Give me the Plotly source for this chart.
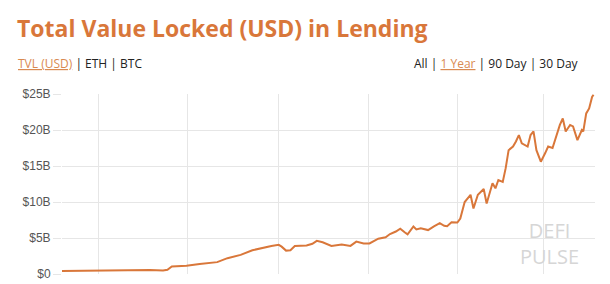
import plotly.graph_objects as go

# Data (date, TVL in billions USD)
dates = [
    "2020-04-06", "2020-04-19", "2020-05-01", "2020-05-12", "2020-05-24", "2020-06-05",
    "2020-06-14", "2020-06-17", "2020-06-20", "2020-06-26", "2020-06-30", "2020-07-09",
    "2020-07-16", "2020-07-21", "2020-07-28", "2020-08-06", "2020-08-14", "2020-08-24",
    "2020-08-27", "2020-09-01", "2020-09-03", "2020-09-06", "2020-09-09", "2020-09-12",
    "2020-09-16", "2020-09-20", "2020-09-24", "2020-09-27", "2020-10-01", "2020-10-07",
    "2020-10-14", "2020-10-20", "2020-10-24", "2020-10-29", "2020-11-02", "2020-11-08",
    "2020-11-13", "2020-11-16", "2020-11-20", "2020-11-23", "2020-11-26", "2020-11-28",
    "2020-12-02", "2020-12-04", "2020-12-07", "2020-12-12", "2020-12-16", "2020-12-20",
    "2020-12-23", "2020-12-25", "2020-12-28", "2021-01-01", "2021-01-03", "2021-01-06",
    "2021-01-10", "2021-01-12", "2021-01-15", "2021-01-19", "2021-01-21", "2021-01-25",
    "2021-01-27", "2021-01-29", "2021-02-01", "2021-02-03", "2021-02-05", "2021-02-08",
    "2021-02-10", "2021-02-12", "2021-02-14", "2021-02-18", "2021-02-20", "2021-02-22",
    "2021-02-24", "2021-02-27", "2021-03-02", "2021-03-04", "2021-03-07", "2021-03-10",
    "2021-03-12", "2021-03-14", "2021-03-16", "2021-03-19", "2021-03-21", "2021-03-24",
    "2021-03-27", "2021-03-28", "2021-03-30", "2021-04-01", "2021-04-03", "2021-04-04",
]
tvl_billions = [
    0.40, 0.45, 0.50, 0.55, 0.50, 0.55,
    0.50, 0.60, 1.05, 1.10, 1.15, 1.40,
    1.50, 1.65, 2.20, 2.65, 3.30, 3.80,
    3.90, 4.05, 3.80, 3.25, 3.30, 3.90,
    3.95, 3.95, 4.20, 4.60, 4.40, 3.90,
    4.10, 3.90, 4.50, 4.25, 4.25, 4.90,
    5.10, 5.55, 5.90, 6.30, 5.80, 5.50,
    6.60, 6.20, 6.35, 6.10, 6.60, 7.05,
    6.70, 6.65, 7.20, 7.15, 7.70, 10.00,
    11.00, 9.10, 11.00, 11.80, 9.80, 12.60,
    11.90, 13.05, 12.80, 14.70, 17.20, 17.70,
    18.40, 19.30, 18.15, 17.70, 19.30, 19.80,
    17.20, 15.60, 16.80, 17.70, 17.50, 19.50,
    20.70, 21.60, 19.80, 20.70, 20.50, 18.60,
    20.00, 19.80, 22.30, 23.00, 24.60, 24.90,
]
y_tick_vals = [0, 5, 10, 15, 20, 25]
y_tick_text = ["$0", "$5B", "$10B", "$15B", "$20B", "$25B"]

ORANGE = "#d9773a"
LINK = "#d98a52"
GRID = "#e6e6e6"

fig = go.Figure()
fig.add_trace(go.Scatter(
    x=dates, y=tvl_billions, mode="lines",
    line=dict(color=ORANGE, width=2), hoverinfo="skip",
))

fig.update_layout(
    width=610, height=284,
    margin=dict(l=62, r=15, t=94, b=10, autoexpand=False),
    paper_bgcolor="white", plot_bgcolor="white",
    showlegend=False,
    font=dict(family="Liberation Sans, Arial, sans-serif", color="#555555", size=12),
)
fig.update_xaxes(
    type="date", range=["2020-04-06", "2021-04-05"],
    tick0="2020-01-01", dtick="M2", automargin=False,
    showticklabels=False, showgrid=True, gridcolor=GRID, gridwidth=1,
    zeroline=False, showline=False,
)
fig.update_yaxes(
    range=[0, 25], tickvals=y_tick_vals, ticktext=y_tick_text, automargin=False,
    showgrid=True, gridcolor=GRID, gridwidth=1, zeroline=False,
    showline=False, ticks="outside", ticklen=8, tickcolor=GRID,
    tickfont=dict(size=12, color="#555555"),
)

PW, PH = 610 - 62 - 15, 284 - 94 - 10


def px(x):
    return (x - 62) / PW


def py(y):
    return 1 - (y - 94) / PH


title_font = dict(family="Open Sans, sans-serif", size=23, color=ORANGE, weight=700)
nav_font = dict(family="Open Sans, sans-serif", size=12, color="#222222")
U = "<span style='text-decoration:underline;color:%s'>%s</span>"

fig.add_annotation(text="Total Value Locked (USD) in Lending", xref="paper", yref="paper",
                   x=px(15), y=py(28), xanchor="left", yanchor="middle",
                   showarrow=False, font=title_font)
fig.add_annotation(text=(U % (LINK, "TVL (USD)")) + " | ETH | BTC", xref="paper", yref="paper",
                   x=px(16), y=py(64), xanchor="left", yanchor="middle",
                   showarrow=False, font=nav_font)
fig.add_annotation(text="All | " + (U % (LINK, "1 Year")) + " | 90 Day | 30 Day",
                   xref="paper", yref="paper",
                   x=px(581), y=py(64), xanchor="right", yanchor="middle",
                   showarrow=False, font=nav_font)

wm_font = dict(family="Open Sans, sans-serif", size=20, color="#d6d6d6")
fig.add_annotation(text="DEFI<br>PULSE", xref="paper", yref="paper", x=px(549), y=py(243),
                   xanchor="center", yanchor="middle", align="center",
                   showarrow=False, font=wm_font)

fig.write_html("out.html")
